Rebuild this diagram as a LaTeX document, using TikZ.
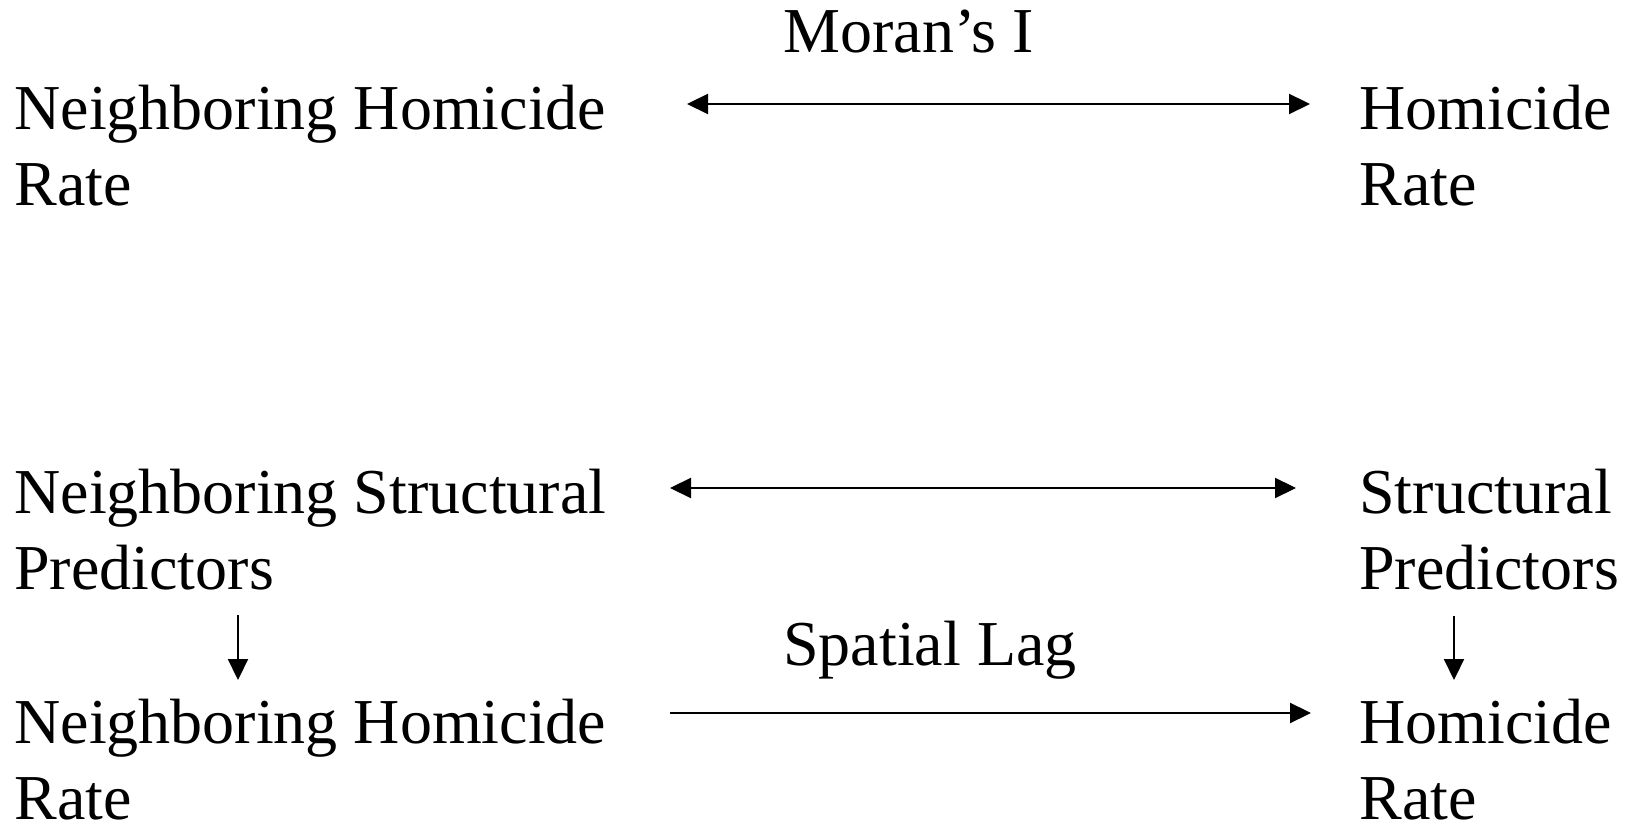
\documentclass[tikz,border=0pt]{standalone}
\usepackage{fontspec}
\setmainfont{Liberation Serif}
\usetikzlibrary{arrows.meta,positioning}

\tikzset{
    lbl/.style={anchor=base west,inner sep=0pt,align=left,font=\fontsize{32}{38}\selectfont},
    link/.style={line width=1.1pt,-{Triangle[length=10.5pt,width=10pt]}},
    twolink/.style={line width=1.1pt,{Triangle[length=10.5pt,width=10pt]}-{Triangle[length=10.5pt,width=10pt]}},
}

\begin{document}
\begin{tikzpicture}[x=0.5pt,y=-0.5pt]
    \useasboundingbox (0,0) rectangle (1629,823);
    \node[lbl] (nbrateA) at (14,206) {Neighboring Homicide\\Rate};
    \node[lbl] (rateA) at (1359,206) {Homicide\\Rate};
    \node[lbl] (moran) at (783,53) {Moran’s I};
    \node[lbl] (nbpred) at (14,589) {Neighboring Structural\\Predictors};
    \node[lbl] (pred) at (1359,589) {Structural\\Predictors};
    \node[lbl] (nbrateB) at (14,819) {Neighboring Homicide\\Rate};
    \node[lbl] (rateB) at (1359,819) {Homicide\\Rate};
    \node[lbl] (lag) at (783,665) {Spatial Lag};
    \coordinate (moranL) at (687,104);
    \coordinate (moranR) at (1310,104);
    \coordinate (predL) at (670,488);
    \coordinate (predR) at (1296,488);
    \coordinate (lagL) at (670,713);
    \coordinate (lagR) at (1311,713);
    \coordinate (nbdownT) at (238,615);
    \coordinate (nbdownB) at (238,680);
    \coordinate (downT) at (1454,616);
    \coordinate (downB) at (1454,680);
    \draw[twolink] (moranL) -- (moranR);
    \draw[twolink] (predL) -- (predR);
    \draw[link] (lagL) -- (lagR);
    \draw[link] (nbdownT) -- (nbdownB);
    \draw[link] (downT) -- (downB);
\end{tikzpicture}
\end{document}
